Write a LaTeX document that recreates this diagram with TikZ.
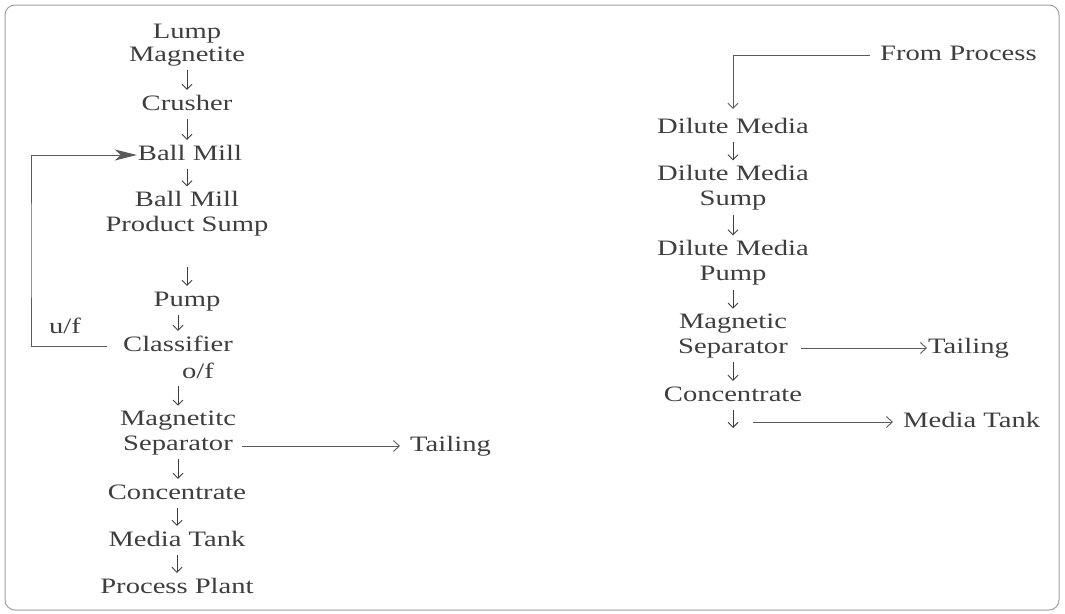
\documentclass[tikz,border=0pt]{standalone}
\usepackage{fontspec}
\setmainfont{Liberation Serif}[FakeStretch=1.3]
\usetikzlibrary{arrows.meta,calc}
\definecolor{ink}{HTML}{3E3E3E}
\definecolor{wire}{HTML}{5A5A5A}
\definecolor{framec}{HTML}{A0A0A0}
\begin{document}
\begin{tikzpicture}[x=1pt,y=-1pt,
  every node/.style={inner sep=0pt, text=ink, font=\fontsize{22}{25}\selectfont},
  lbl/.style={text height=15pt, text depth=5pt},
  mlbl/.style={align=center},
  flow/.style={draw=ink, line width=0.9pt, -{Straight Barb[length=5pt,width=10pt]}, shorten <=4pt, shorten >=5pt},
  side/.style={draw=wire, line width=0.9pt, -{Straight Barb[length=6pt,width=11pt]}},
  feed/.style={draw=wire, line width=0.9pt, -{Stealth[length=22pt,width=11pt,inset=6pt]}},
  joinline/.style={draw=wire, line width=0.9pt, -{Straight Barb[length=5pt,width=10pt]}}]
\useasboundingbox (0,0) rectangle (1065,613);
\draw[framec, line width=1pt, rounded corners=10pt] (5,5) rectangle (1059,610);

% left column
\node[mlbl, font=\fontsize{22}{23}\selectfont] (lump) at (187,45) {Lump\\Magnetite};
\node[lbl] (crusher) at (187,105) {Crusher};
\node[lbl] (bm1) at (190,155) {Ball Mill};
\node[mlbl] (bms) at (187,214) {Ball Mill\\Product Sump};
\node[lbl] (pump) at (187,301) {Pump};
\node[lbl] (class) at (178,346) {Classifier};
\node[lbl] (of) at (198,373) {o/f};
\node[mlbl] (mag) at (178,433) {Magnetitc\\Separator};
\node[lbl] (conc) at (177,494) {Concentrate};
\node[lbl] (mtank) at (177,541) {Media Tank};
\node[lbl] (plant) at (177,588) {Process Plant};
\node[lbl] (uf) at (65,328) {u/f};
\node[lbl, anchor=west] (tail1) at (410,446) {Tailing};

\draw[flow] (lump.south) -- (lump.south |- crusher.north);
\draw[flow] (crusher.south) -- (crusher.south |- bm1.north);
\draw[flow] (bms.north |- bm1.south) -- (bms.north);
\draw[flow, shorten <=30pt] (bms.south) -- (pump.north);
\draw[flow] (class.north |- pump.south) -- (class.north);
\draw[flow, shorten <=3pt] (of.south -| mag.north) -- (mag.north);
\draw[flow] (mag.south) -- (mag.south |- conc.north);
\draw[flow] (conc.south) -- (conc.south |- mtank.north);
\draw[flow] (mtank.south) -- (mtank.south |- plant.north);
\draw[side, shorten <=6pt, shorten >=10pt] (mag.east |- tail1.west) -- (tail1.west);

\coordinate (loop) at (31,250);
\draw[feed, shorten >=1pt] ([xshift=-16pt]class.west) -| (loop) |- (bm1.west);

% right column
\node[lbl, anchor=west] (frompro) at (880,55) {From Process};
\node[lbl] (dm1) at (733,128) {Dilute Media};
\node[mlbl] (dms) at (733,188) {Dilute Media\\Sump};
\node[mlbl] (dmp) at (733,263) {Dilute Media\\Pump};
\node[mlbl] (mag2) at (733,336) {Magnetic\\Separator};
\node[lbl, anchor=west] (tail2) at (928,348) {Tailing};
\node[lbl] (conc2) at (733,396) {Concentrate};
\coordinate (cdown) at (733,428);
\coordinate (mstart) at (753,422);
\node[lbl, anchor=west] (mt2) at (903,422) {Media Tank};

\draw[joinline, shorten <=10pt, shorten >=9pt] (frompro.west) -| (dm1.north);
\draw[flow] (dm1.south) -- (dms.north);
\draw[flow] (dms.south) -- (dmp.north);
\draw[flow] (dmp.south) -- (mag2.north);
\draw[flow] (mag2.south) -- (conc2.north);
\draw[flow, shorten >=0pt] (conc2.south) -- (cdown);
\draw[side, shorten <=13pt, shorten >=1pt] (mag2.east |- tail2.west) -- (tail2.west);
\draw[side, shorten >=10pt] (mstart) -- (mt2.west);
\end{tikzpicture}
\end{document}
